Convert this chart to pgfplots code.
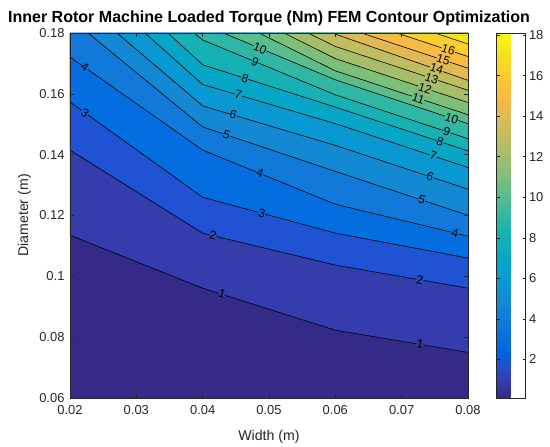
\documentclass[border=0pt]{standalone}
\usepackage{fontspec}
\setmainfont{Liberation Sans}
\usepackage{pgfplots}
\pgfplotsset{compat=1.18}
\pgfplotsset{/pgf/number format/assume math mode=true}
\definecolor{axgray}{rgb}{0.15,0.15,0.15}
% band colours (parula, MATLAB contourf)
\definecolor{b0}{rgb}{0.2081,0.1663,0.5292}
\definecolor{b1}{rgb}{0.2081,0.2386,0.6771}
\definecolor{b2}{rgb}{0.1253,0.3242,0.8303}
\definecolor{b3}{rgb}{0.0165,0.4266,0.8786}
\definecolor{b4}{rgb}{0.0629,0.4737,0.8554}
\definecolor{b5}{rgb}{0.0749,0.5375,0.8263}
\definecolor{b6}{rgb}{0.0343,0.5966,0.8199}
\definecolor{b7}{rgb}{0.0228,0.6535,0.7768}
\definecolor{b8}{rgb}{0.0843,0.6928,0.7062}
\definecolor{b9}{rgb}{0.1801,0.7177,0.6424}
\definecolor{b10}{rgb}{0.3482,0.7424,0.5473}
\definecolor{b11}{rgb}{0.4871,0.7491,0.4840}
\definecolor{b12}{rgb}{0.6473,0.7456,0.4188}
\definecolor{b13}{rgb}{0.7525,0.7384,0.3768}
\definecolor{b14}{rgb}{0.8824,0.7274,0.3217}
\definecolor{b15}{rgb}{0.9739,0.7314,0.2666}
\definecolor{b16}{rgb}{0.9880,0.8066,0.1794}
\definecolor{b17}{rgb}{0.9589,0.8949,0.1132}
\pgfplotsset{colormap={parula}{rgb(0pt)=(0.2081,0.1663,0.5292) rgb(4pt)=(0.1959,0.2645,0.7279) rgb(8pt)=(0.0117,0.3875,0.8820) rgb(12pt)=(0.0498,0.4586,0.8641) rgb(16pt)=(0.0793,0.5200,0.8312) rgb(20pt)=(0.0343,0.5966,0.8199) rgb(24pt)=(0.0228,0.6535,0.7768) rgb(28pt)=(0.0843,0.6928,0.7062) rgb(32pt)=(0.2178,0.7250,0.6193) rgb(36pt)=(0.3953,0.7459,0.5244) rgb(40pt)=(0.5709,0.7485,0.4494) rgb(44pt)=(0.7184,0.7411,0.3905) rgb(48pt)=(0.8507,0.7299,0.3360) rgb(52pt)=(0.9739,0.7314,0.2666) rgb(56pt)=(0.9880,0.8066,0.1794) rgb(60pt)=(0.9589,0.8949,0.1132) rgb(63pt)=(0.9763,0.9831,0.0538)}}
% region above a contour level, filled with that band's colour
\newcommand{\band}[2]{\addplot[draw=none,fill=#1,forget plot] coordinates {#2} -- cycle;}
\newcommand{\cln}[1]{\addplot[black,line width=0.6bp,forget plot] coordinates {#1};}
\newcommand{\clab}[3]{\addplot[draw=none,no markers,forget plot,nodes near coords={#1},
  visualization depends on={value \thisrow{r}\as\rot},
  every node near coord/.append style={anchor=center,rotate=\rot,fill=#2,inner sep=0.3bp,text=black,font=\fontsize{12}{12}\selectfont}]
  table[row sep=\\]{x y r\\ #3};}
\begin{document}
\begin{tikzpicture}
\begin{axis}[
  at={(0,0)}, anchor=south west,
  scale only axis, width=398bp, height=365bp,
  xmin=0.02, xmax=0.08, ymin=0.06, ymax=0.18,
  xtick={0.02,0.03,0.04,0.05,0.06,0.07,0.08},
  ytick={0.06,0.08,0.1,0.12,0.14,0.16,0.18},
  scaled ticks=false,
  xticklabel style={/pgf/number format/fixed,/pgf/number format/precision=2, yshift=-4bp},
  yticklabel style={/pgf/number format/fixed,/pgf/number format/precision=2, xshift=-2bp},
  tick label style={font=\fontsize{13}{13}\selectfont, text=axgray},
  tick align=inside, major tick length=4bp,
  axis line style={axgray, line width=0.5bp},
  every tick/.style={axgray, line width=0.5bp},
  axis on top,
  title={Inner Rotor Machine Loaded Torque (Nm) FEM Contour Optimization},
  title style={font=\bfseries\fontsize{16.1}{16}\selectfont, at={(axis description cs:0.5,1)}, anchor=base, yshift=5bp},
  xlabel={Width (m)},
  xlabel style={font=\fontsize{14.2}{14}\selectfont, text=axgray, at={(axis description cs:0.5,0)}, anchor=base, yshift=-42bp},
  ylabel={Diameter (m)},
  ylabel style={font=\fontsize{14.2}{14}\selectfont, text=axgray, at={(axis description cs:-0.1055,0.5)}, anchor=base},
  colormap name=parula,
  point meta min=0.1, point meta max=18.1,
  colorbar,
  colorbar style={
    at={(parent axis.north east)}, anchor=north west, xshift=20bp,
    scale only axis, width=29bp, height=365bp,
    ytick={2,4,...,18},
    tick label style={font=\fontsize{13}{13}\selectfont, text=axgray},
    tick align=inside, major tick length=3bp,
    axis line style={axgray, line width=0.5bp},
  },
]
% bands (painter's order)
\band{b0}{(0.02,0.06)(0.08,0.06)(0.08,0.18)(0.02,0.18)}
\band{b1}{(0.02,0.1135)(0.04,0.0961)(0.06,0.0823)(0.08,0.0750)(0.08,0.18)(0.02,0.18)}
\band{b2}{(0.02,0.1415)(0.04,0.1142)(0.06,0.1037)(0.08,0.0961)(0.08,0.18)(0.02,0.18)}
\band{b3}{(0.02,0.1573)(0.04,0.1260)(0.06,0.1142)(0.08,0.1060)(0.08,0.18)(0.02,0.18)}
\band{b4}{(0.02,0.1721)(0.04,0.1415)(0.06,0.1237)(0.08,0.1132)(0.08,0.18)(0.02,0.18)}
\band{b5}{(0.02271,0.18)(0.04,0.14913)(0.06,0.1345)(0.08,0.12007)(0.08,0.18)}
\band{b6}{(0.02709,0.18)(0.04,0.15603)(0.06,0.14305)(0.08,0.12865)(0.08,0.18)}
\band{b7}{(0.03131,0.18)(0.04,0.16307)(0.06,0.15021)(0.08,0.13578)(0.08,0.18)}
\band{b8}{(0.03477,0.18)(0.04,0.16955)(0.06,0.15564)(0.08,0.14124)(0.08,0.18)}
\band{b9}{(0.03869,0.18)(0.04,0.1777)(0.06,0.15968)(0.08,0.14525)(0.08,0.18)}
\band{b10}{(0.04313,0.18)(0.06,0.16461)(0.08,0.15018)(0.08,0.18)}
\band{b11}{(0.04849,0.18)(0.06,0.16757)(0.08,0.15314)(0.08,0.18)}
\band{b12}{(0.05226,0.18)(0.06,0.17158)(0.08,0.15715)(0.08,0.18)}
\band{b13}{(0.05588,0.18)(0.06,0.17559)(0.08,0.16116)(0.08,0.18)}
\band{b14}{(0.0595,0.18)(0.08,0.16445)(0.08,0.18)}
\band{b15}{(0.06394,0.18)(0.08,0.16843)(0.08,0.18)}
\band{b16}{(0.06927,0.18)(0.08,0.17227)(0.08,0.18)}
\band{b17}{(0.07503,0.18)(0.08,0.17638)(0.08,0.18)}
% contour lines
\cln{(0.02,0.1135)(0.04,0.0961)(0.06,0.0823)(0.08,0.0750)}
\cln{(0.02,0.1415)(0.04,0.1142)(0.06,0.1037)(0.08,0.0961)}
\cln{(0.02,0.1573)(0.04,0.1260)(0.06,0.1142)(0.08,0.1060)}
\cln{(0.02,0.1721)(0.04,0.1415)(0.06,0.1237)(0.08,0.1132)}
\cln{(0.02271,0.18)(0.04,0.14913)(0.06,0.1345)(0.08,0.12007)}
\cln{(0.02709,0.18)(0.04,0.15603)(0.06,0.14305)(0.08,0.12865)}
\cln{(0.03131,0.18)(0.04,0.16307)(0.06,0.15021)(0.08,0.13578)}
\cln{(0.03477,0.18)(0.04,0.16955)(0.06,0.15564)(0.08,0.14124)}
\cln{(0.03869,0.18)(0.04,0.1777)(0.06,0.15968)(0.08,0.14525)}
\cln{(0.04313,0.18)(0.06,0.16461)(0.08,0.15018)}
\cln{(0.04849,0.18)(0.06,0.16757)(0.08,0.15314)}
\cln{(0.05226,0.18)(0.06,0.17158)(0.08,0.15715)}
\cln{(0.05588,0.18)(0.06,0.17559)(0.08,0.16116)}
\cln{(0.0595,0.18)(0.08,0.16445)}
\cln{(0.06394,0.18)(0.08,0.16843)}
\cln{(0.06927,0.18)(0.08,0.17227)}
\cln{(0.07503,0.18)(0.08,0.17638)}
% contour labels
\clab{1}{b0!50!b1}{0.04291 0.09419 -17.6\\ 0.07276 0.07775 -9.4\\}
\clab{2}{b1!50!b2}{0.04156 0.11343 -13.6\\ 0.07276 0.09889 -9.8\\}
\clab{3}{b2!50!b3}{0.02226 0.15380 -35.6\\ 0.04894 0.12079 -15.2\\}
\clab{4}{b3!50!b4}{0.02226 0.16866 -35\\ 0.04864 0.13384 -22.2\\ 0.07804 0.11428 -13.5\\}
\clab{5}{b4!50!b5}{0.04362 0.14647 -18.6\\ 0.07302 0.12510 -18.3\\}
\clab{6}{b5!50!b6}{0.04462 0.15304 -16.6\\ 0.07427 0.13276 -18.3\\}
\clab{7}{b6!50!b7}{0.04537 0.15962 -16.5\\ 0.07477 0.13956 -18.3\\}
\clab{8}{b7!50!b8}{0.04638 0.16511 -17.7\\ 0.07578 0.14426 -18.3\\}
\clab{9}{b8!50!b9}{0.04789 0.17056 -22.5\\ 0.07679 0.14755 -18.3\\}
\clab{10}{b9!50!b10}{0.04864 0.17497 -22.7\\ 0.07754 0.15196 -18.3\\}
\clab{11}{b10!50!b11}{0.07251 0.15853 -18.3\\}
\clab{12}{b11!50!b12}{0.07352 0.16182 -18.3\\}
\clab{13}{b12!50!b13}{0.07453 0.16511 -18.3\\}
\clab{14}{b13!50!b14}{0.07528 0.16839 -18.3\\}
\clab{15}{b14!50!b15}{0.07628 0.17112 -18.3\\}
\clab{16}{b15!50!b16}{0.07703 0.17441 -18.3\\}
\end{axis}
\pgfresetboundingbox
\path[use as bounding box] (-70bp,-49bp) rectangle (480bp,398bp);
\end{tikzpicture}
\end{document}
